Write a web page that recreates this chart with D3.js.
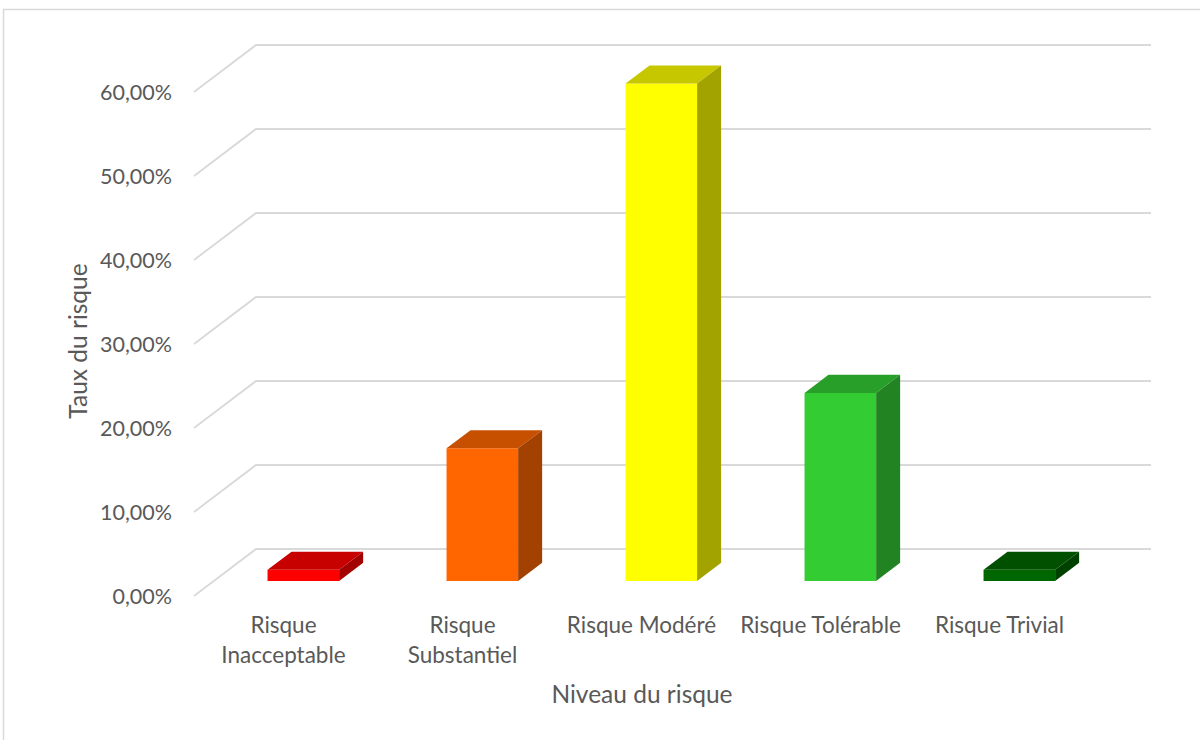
<!DOCTYPE html>
<html>
<head>
<meta charset="utf-8">
<script src="https://cdn.jsdelivr.net/npm/d3@7"></script>
<style>
  html, body { margin: 0; padding: 0; background: #ffffff; }
  svg { display: block; }
  text { font-family: Lato, "Open Sans", sans-serif; fill: #595959; }
</style>
</head>
<body>
<svg id="chart" width="1200" height="740"></svg>
<script>
// Risk levels and their share of observations
const categories = ["Risque Inacceptable", "Risque Substantiel", "Risque Modéré", "Risque Tolérable", "Risque Trivial"];
const categoryLines = [["Risque", "Inacceptable"], ["Risque", "Substantiel"], ["Risque Modéré"], ["Risque Tolérable"], ["Risque Trivial"]];
const values = [1.32, 15.79, 59.21, 22.37, 1.32];
const barColors = ["#ff0000", "#ff6600", "#ffff00", "#33cc33", "#006600"];
const yTicks = [0, 10, 20, 30, 40, 50, 60];
const yTitle = "Taux du risque";
const xTitle = "Niveau du risque";

const svg = d3.select("#chart");

// frame around the chart area
svg.append("rect")
  .attr("x", 3.5).attr("y", 9.5)
  .attr("width", 1300).attr("height", 800)
  .attr("fill", "#ffffff")
  .attr("stroke", "#d9d9d9").attr("stroke-width", 1.5);

// oblique 3D projection: front plane scales plus a depth vector
const depth = { dx: 62, dy: -47 };
const barZ = [0.32, 0.707];          // bar front / back position within the floor depth

const y = d3.scaleLinear().domain([0, 60]).range([596, 92]);
const x = d3.scaleBand().domain(categories).range([194, 1089])
  .paddingInner(0.6).paddingOuter(0.3);
const frontLeft = 194, frontRight = 1089;

function proj(px, v, z) {
  return [px + depth.dx * z, y(v) + depth.dy * z];
}

// gridlines on the side and back walls
const grid = svg.append("g").attr("class", "grid");
grid.selectAll("path")
  .data(yTicks)
  .join("path")
  .attr("d", v => {
    const a = proj(frontLeft, v, 0), b = proj(frontLeft, v, 1), c = proj(frontRight, v, 1);
    return `M${a[0]},${a[1]}L${b[0]},${b[1]}L${c[0]},${c[1]}`;
  })
  .attr("fill", "none")
  .attr("stroke", "#d9d9d9")
  .attr("stroke-width", 1.8);

// value axis labels
const fmt = v => d3.format(".2f")(v).replace(".", ",") + "%";
svg.append("g").selectAll("text")
  .data(yTicks)
  .join("text")
  .attr("x", 172)
  .attr("y", v => y(v))
  .attr("dy", "0.36em")
  .attr("text-anchor", "end")
  .attr("font-size", 21.5)
  .text(fmt);

// 3D columns
const bars = svg.append("g").selectAll("g")
  .data(categories.map((c, i) => ({ c, v: values[i], color: barColors[i] })))
  .join("g");

function poly(pts) { return "M" + pts.map(p => p.join(",")).join("L") + "Z"; }

bars.each(function(d) {
  const g = d3.select(this);
  const x0 = x(d.c), x1 = x(d.c) + x.bandwidth();
  const [z0, z1] = barZ;
  const base = d3.color(d.color);
  const topColor = d3.rgb(base.r * 0.78, base.g * 0.78, base.b * 0.78);
  const sideColor = d3.rgb(base.r * 0.64, base.g * 0.64, base.b * 0.64);
  // front face
  g.append("path")
    .attr("d", poly([proj(x0, 0, z0), proj(x1, 0, z0), proj(x1, d.v, z0), proj(x0, d.v, z0)]))
    .attr("fill", base);
  // top face
  g.append("path")
    .attr("d", poly([proj(x0, d.v, z0), proj(x1, d.v, z0), proj(x1, d.v, z1), proj(x0, d.v, z1)]))
    .attr("fill", topColor);
  // right side face
  g.append("path")
    .attr("d", poly([proj(x1, 0, z0), proj(x1, 0, z1), proj(x1, d.v, z1), proj(x1, d.v, z0)]))
    .attr("fill", sideColor);
});

// category labels
const catLabels = svg.append("g").selectAll("text")
  .data(categories.map((c, i) => ({ c, lines: categoryLines[i] })))
  .join("text")
  .attr("text-anchor", "middle")
  .attr("font-size", 22.5)
  .attr("x", d => x(d.c) + x.bandwidth() / 2)
  .attr("y", 633);
catLabels.selectAll("tspan")
  .data(d => d.lines.map(l => ({ l, cx: x(d.c) + x.bandwidth() / 2 })))
  .join("tspan")
  .attr("x", t => t.cx)
  .attr("dy", (t, i) => i === 0 ? 0 : 29.5)
  .text(t => t.l);

// axis titles
svg.append("text")
  .attr("x", 642).attr("y", 703)
  .attr("text-anchor", "middle")
  .attr("font-size", 24.5)
  .text(xTitle);

svg.append("text")
  .attr("transform", "translate(87,341) rotate(-90)")
  .attr("text-anchor", "middle")
  .attr("font-size", 24.5)
  .text(yTitle);
</script>
</body>
</html>
